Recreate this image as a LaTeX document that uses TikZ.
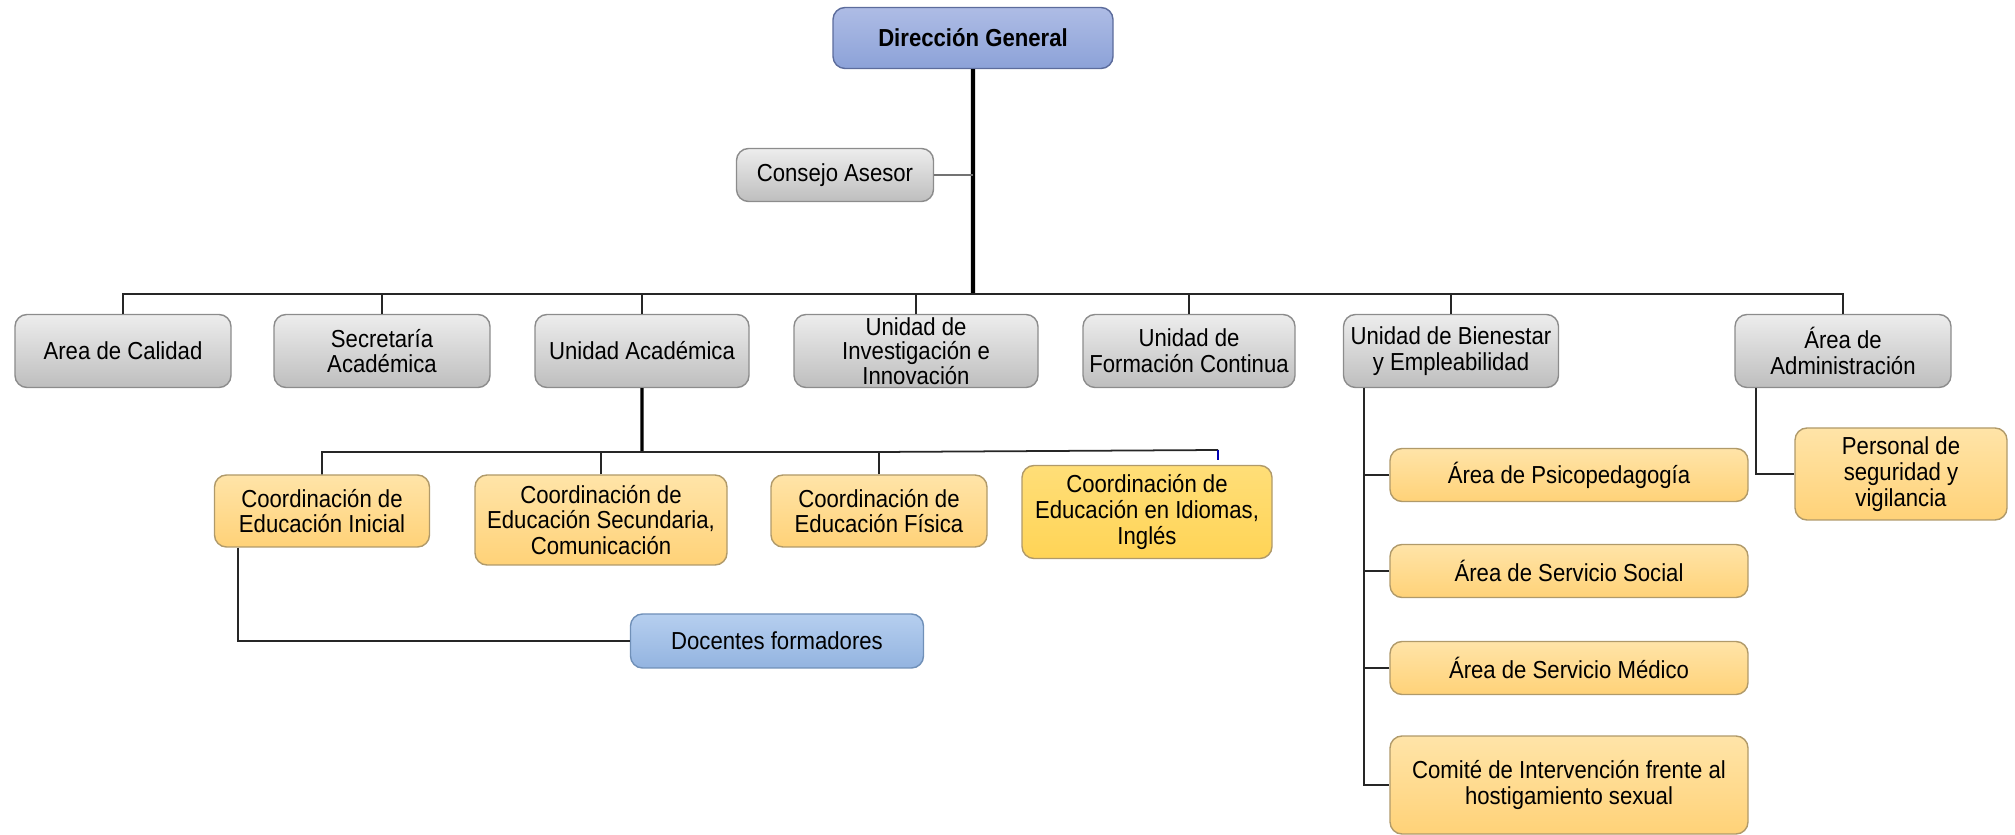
\documentclass[tikz,border=0pt]{standalone}
\usepackage{fontspec}
\setmainfont{Liberation Sans}[FakeStretch=0.9]
\usepackage{tikz}
\usepackage{xcolor}

\definecolor{grisT}{HTML}{EDEDED}
\definecolor{grisF}{HTML}{BEBEBE}
\definecolor{grisB}{HTML}{8C8C8C}
\definecolor{amaT}{HTML}{FFE4A8}
\definecolor{amaF}{HTML}{FFD278}
\definecolor{amaB}{HTML}{B09A6A}
\definecolor{oroT}{HTML}{FFDE78}
\definecolor{oroF}{HTML}{FFD456}
\definecolor{azuT}{HTML}{AEBCE5}
\definecolor{azuF}{HTML}{8CA2D8}
\definecolor{azuB}{HTML}{5C6C9C}
\definecolor{celT}{HTML}{B6CFEF}
\definecolor{celF}{HTML}{93B4E0}
\definecolor{celB}{HTML}{7090B8}

\begin{document}
\begin{tikzpicture}[font=\fontsize{7}{7.3}\selectfont,
	caja/.style={rounded corners=1.2mm, align=center, inner sep=1pt, text=black},
	gris/.style={caja, draw=grisB, top color=grisT, bottom color=grisF, minimum height=0.73cm},
	amarilla/.style={caja, draw=amaB, top color=amaT, bottom color=amaF},
	dorada/.style={caja, draw=amaB, top color=oroT, bottom color=oroF},
	azul/.style={caja, draw=azuB, top color=azuT, bottom color=azuF},
	celeste/.style={caja, draw=celB, top color=celT, bottom color=celF},
	linea/.style={black!85, line width=0.5pt}]
	\useasboundingbox (0,0) rectangle (20.15,-8.35);

	\draw (9.73cm,-0.38cm) node[azul, minimum width=2.80cm, minimum height=0.61cm, font=\fontsize{7}{7.3}\selectfont\bfseries] (dg) {Dirección General}
	(8.35cm,-1.75cm) node[gris, minimum width=1.97cm, minimum height=0.53cm] (ca) {Consejo Asesor}
	(1.23cm,-3.51cm) node[gris, minimum width=2.16cm] (cal) {Area de Calidad}
	(3.82cm,-3.51cm) node[gris, minimum width=2.16cm] (sec) {Secretaría\\Académica}
	(6.42cm,-3.51cm) node[gris, minimum width=2.14cm] (ua) {Unidad Académica}
	(9.16cm,-3.51cm) node[gris, minimum width=2.44cm, inner ysep=0pt, font=\fontsize{7}{7}\selectfont] (uii) {Unidad de\\Investigación e\\Innovación}
	(11.89cm,-3.51cm) node[gris, minimum width=2.12cm] (ufc) {Unidad de\\Formación Continua}
	(14.51cm,-3.51cm) node[gris, minimum width=2.15cm] (ube) {Unidad de Bienestar\\y Empleabilidad}
	(18.43cm,-3.51cm) node[gris, minimum width=2.16cm] (adm) {Área de\\Administración}
	(3.22cm,-5.11cm) node[amarilla, minimum width=2.15cm, minimum height=0.72cm] (ceini) {Coordinación de\\Educación Inicial}
	(6.01cm,-5.20cm) node[amarilla, minimum width=2.52cm, minimum height=0.90cm] (cesec) {Coordinación de\\Educación Secundaria,\\Comunicación}
	(8.79cm,-5.11cm) node[amarilla, minimum width=2.16cm, minimum height=0.72cm] (cefis) {Coordinación de\\Educación Física}
	(11.47cm,-5.12cm) node[dorada, minimum width=2.50cm, minimum height=0.93cm] (ceidi) {Coordinación de\\Educación en Idiomas,\\Inglés}
	(7.77cm,-6.41cm) node[celeste, minimum width=2.93cm, minimum height=0.54cm] (doc) {Docentes formadores}
	(15.69cm,-4.75cm) node[amarilla, minimum width=3.58cm, minimum height=0.53cm] (psi) {Área de Psicopedagogía}
	(15.69cm,-5.71cm) node[amarilla, minimum width=3.58cm, minimum height=0.53cm] (soc) {Área de Servicio Social}
	(15.69cm,-6.68cm) node[amarilla, minimum width=3.58cm, minimum height=0.53cm] (med) {Área de Servicio Médico}
	(15.69cm,-7.85cm) node[amarilla, minimum width=3.58cm, minimum height=0.98cm] (com) {Comité de Intervención frente al\\hostigamiento sexual}
	(19.01cm,-4.74cm) node[amarilla, minimum width=2.12cm, minimum height=0.92cm] (per) {Personal de\\seguridad y\\vigilancia};

	\coordinate (bus) at (9.73,-2.94);
	\coordinate (sbus) at (6.42,-4.52);
	\coordinate (sfin) at (12.18,-4.50);
	\coordinate (bv) at ([xshift=0.21cm]ube.south west);

	\draw[line width=1.2pt] (dg.south) -- (bus);
	\draw[black!55, line width=0.5pt] (ca.east) -- (ca.east -| dg.south);
	\draw[linea] (cal.north) |- (bus) -| (adm.north);
	\foreach \n in {sec,ua,uii,ufc,ube}
		\draw[linea] (\n.north) -- (\n.north |- bus);
	\draw[line width=0.9pt] (ua.south) -- (sbus);
	\draw[linea] (ceini.north) |- (sbus) -- (cefis.north |- sbus) -- (sfin);
	\foreach \n in {cesec,cefis}
		\draw[linea] (\n.north) -- (\n.north |- sbus);
	\draw[blue!70!black, line width=0.4pt] (sfin) -- ([yshift=-0.1cm]sfin);
	\draw[linea] ([xshift=0.24cm]ceini.south west) |- (doc.west);
	\draw[linea] (bv) |- (com.west);
	\foreach \n in {psi,soc,med}
		\draw[linea] (\n.west) -- (\n.west -| bv);
	\draw[linea] ([xshift=0.22cm]adm.south west) |- (per.west);
\end{tikzpicture}
\end{document}
